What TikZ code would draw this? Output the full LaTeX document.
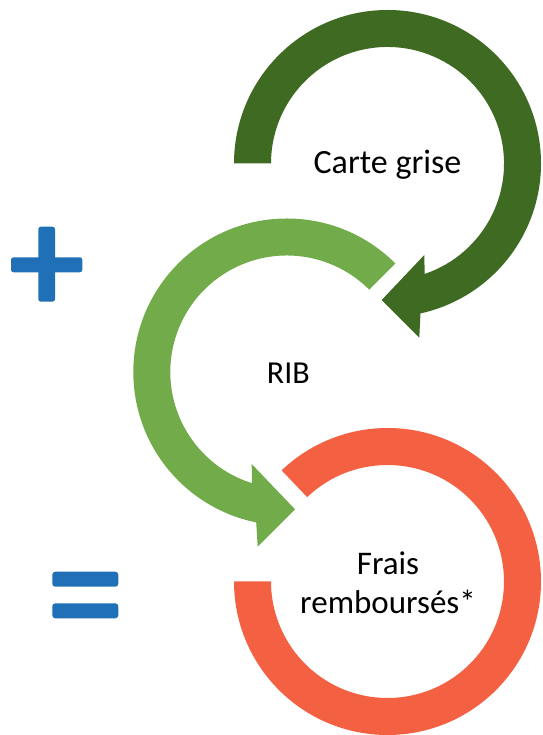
\documentclass[tikz,border=0pt]{standalone}
\usepackage{fontspec}
\setmainfont{Carlito}
\usepackage{xcolor}
\usepackage{tikz}
\usetikzlibrary{calc}

\definecolor{darkgreen}{RGB}{63,106,33}
\definecolor{lightgreen}{RGB}{114,172,74}
\definecolor{tomato}{RGB}{244,96,66}
\definecolor{signblue}{RGB}{31,112,182}

\begin{document}
\begin{tikzpicture}[x=1pt, y=1pt,
    label/.style={inner sep=0pt, anchor=base, align=center, font=\fontsize{33}{38.3}\selectfont}]
    \useasboundingbox (0,0) rectangle (542,735);

    \coordinate (c1) at (387.5,571.5);
    \coordinate (c2) at (286.8,363);
    \coordinate (c3) at (387.5,153.5);

    % dark green arrow
    \fill[darkgreen] ($(c1)+(180:153.5)$) arc[start angle=180, end angle=-77.6, radius=153.5]
        -- (419.3,397.3) -- (381.7,435) -- (424.3,480)
        -- ($(c1)+(-71.4:116.5)$) arc[start angle=-71.4, end angle=180, radius=116.5] -- cycle;

    % light green arrow
    \fill[lightgreen] ($(c2)+(45:153.5)$) arc[start angle=45, end angle=258.5, radius=153.5]
        -- (257.7,188.3) -- (295,225.7) -- (251.7,271)
        -- ($(c2)+(252.6:116.5)$) arc[start angle=252.6, end angle=45, radius=116.5] -- cycle;

    % red ring
    \fill[tomato] ($(c3)+(180:153.5)$) arc[start angle=180, end angle=493.6, radius=153.5]
        -- ($(c3)+(493.6:116.5)$) arc[start angle=493.6, end angle=180, radius=116.5] -- cycle;

    % plus and equals
    \fill[signblue, rounded corners=2.5] (38.3,433.3) rectangle (55,508.3);
    \fill[signblue, rounded corners=2.5] (11,462.7) rectangle (82.3,477.7);
    \fill[signblue, rounded corners=3] (52.3,148.3) rectangle (118.3,163.3);
    \fill[signblue, rounded corners=3] (52.3,116.7) rectangle (118.3,131.7);

    \node[label, font=\fontsize{34}{38}\selectfont] (carte) at (387.5,561) {Carte grise};
    \node[label, font=\fontsize{32}{38}\selectfont] (rib) at (288.3,351) {RIB};
    \node[label] (frais) at (388,121.7) {Frais\\remboursés*};
\end{tikzpicture}
\end{document}
